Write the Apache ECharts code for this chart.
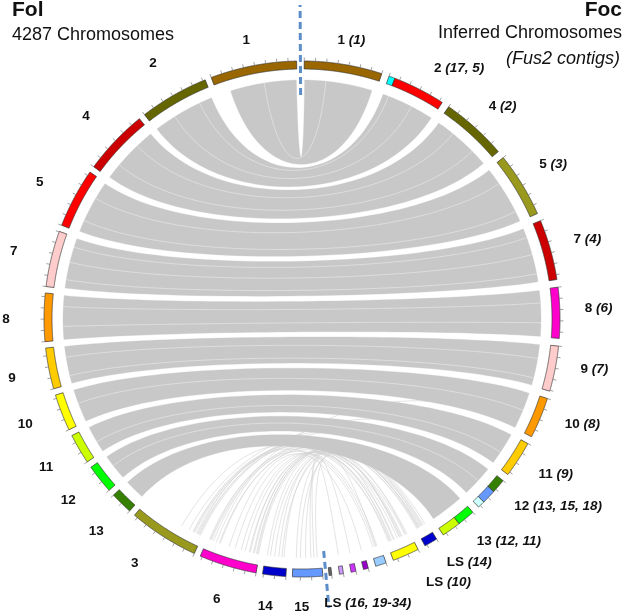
<!DOCTYPE html>
<html><head><meta charset="utf-8">
<script src="https://cdn.jsdelivr.net/npm/echarts@6/dist/echarts.min.js"></script>
<style>html,body{margin:0;padding:0;background:#fff}#c{width:625px;height:614px}</style>
</head><body><div id="c"></div>
<script>
// ---------------- DATA ----------------
// Circos chromosome colour palette (index = chromosome / contig number)
const chrColors = [null,'#996600','#666600','#99991e','#cc0000','#ff0000','#ff00cc','#ffcccc','#ff9900','#ffcc00','#ffff00',
  '#ccff00','#00ff00','#358000','#0000cc','#6699ff','#99ccff','#00ffff','#ccffff','#9900cc','#cc33ff','#cc99ff','#666666'];

// Fol 4287 chromosomes, clockwise from the bottom dashed line (Mb)
const folNames   = ['15','14','6','3','13','12','11','10','9','8','7','5','4','2','1'];
const folLengths = [2.71,2.09,5.19,6.33,2.01,2.61,2.71,3.31,3.69,4.33,5.05,5.37,5.91,6.23,7.76];

// Foc inferred chromosomes (ideograms), clockwise from the top dashed line, made of Fus2 contigs
const focKeys    = ['1','2','4','5','7','8','9','10','11','12','13','LS14','LS10','16','19','20','21','22'];
const focContigs = [[1],[17,5],[2],[3],[4],[6],[7],[8],[9],[13,15,18],[12,11],[14],[10],[16],[19],[20],[21],[22]];
const contigIds     = [1,17,5,2,3,4,6,7,8,9,13,15,18,12,11,14,10,16,19,20,21,22];
const contigLengths = [7.0,0.56,4.72,5.96,5.84,5.44,4.56,4.08,3.68,3.28,1.28,1.28,0.64,1.6,1.72,1.2,2.4,0.96,0.44,0.44,0.36,0.24];

// Foc labels
const focLabelMain    = ['1','2','4','5','7','8','9','10','11','12','13','LS','LS','LS'];
const focLabelContigs = ['(1)','(17, 5)','(2)','(3)','(4)','(6)','(7)','(8)','(9)','(13, 15, 18)','(12, 11)','(14)','(10)','(16, 19-34)'];
const focLabelFrom    = ['1','2','4','5','7','8','9','10','11','12','13','LS14','LS10','16'];
const focLabelTo      = ['1','2','4','5','7','8','9','10','11','12','13','LS14','LS10','22'];

// Syntenic blocks (ribbons): Fol chromosome range <-> Foc ideogram range (Mb, local)
const synFol      = ['1','2','4','5','7','8','9','10','11','12','13'];
const synFolStart = [1.30,0.10,0.10,0.10,0.10,0.05,0.05,0.05,0.05,0.05,0.05];
const synFolEnd   = [7.70,6.15,5.82,5.28,4.96,4.27,3.64,3.25,2.66,2.56,1.98];
const synFoc      = ['1','2','4','5','7','8','9','10','11','12','13'];
const synFocStart = [0.05,0.05,0.10,0.10,0.10,0.10,0.05,0.05,0.05,0.05,0.05];
const synFocEnd   = [6.60,5.20,5.90,5.80,5.38,4.50,4.00,3.62,3.22,3.10,3.25];

// Lighter streaks inside the syntenic bands (Fol chr, pos) <-> (Foc ideogram, pos)
const streakFol    = ['1','2','2','4','4','5','5','7','7','7','8','8','9','9','10','11','12'];
const streakFolPos = [4.6,2.2,4.9,1.6,4.1,1.2,3.6,0.9,2.6,4.1,1.3,3.2,0.8,2.6,1.9,1.1,1.5];
const streakFoc    = ['1','2','2','4','4','5','5','7','7','7','8','8','9','9','10','11','12'];
const streakFocPos = [2.1,3.0,0.6,4.3,1.8,4.8,1.7,4.6,2.7,1.0,3.2,1.3,3.3,1.4,1.8,2.0,1.5];

// Individual thin links (lineage-specific regions)
const thinFol    = ['6','6','6','6','6','6','6','6','6','6','6','6','6','6','6','14','14','14','14','14','15','15','15','15','15','3','3','3','3','3','3','3','3','6','3','15','6','3','14','6'];
const thinFolPos = [0.3,0.6,1.0,0.2,0.5,0.9,1.4,1.8,4.6,4.9,5.0,4.3,3.9,2.4,3.0,0.3,0.8,1.2,1.6,1.9,0.4,1.0,1.5,2.0,2.4,0.3,0.6,0.9,1.4,2.2,0.5,1.0,0.4,4.8,0.2,0.7,0.1,0.8,0.5,4.0];
const thinFoc    = ['LS14','LS14','LS14','LS10','LS10','LS10','LS10','LS10','LS10','LS14','13','16','LS10','16','19','LS10','LS10','LS14','LS14','LS10','16','20','LS10','LS14','LS10','LS14','LS10','13','12','LS10','16','LS14','11','10','12','21','13','13','13','LS14'];
const thinFocPos = [0.2,0.5,0.9,0.3,0.8,1.3,1.9,2.2,0.5,0.6,2.9,0.5,1.6,0.3,0.2,0.4,1.0,0.4,0.9,2.0,0.4,0.2,1.1,0.7,1.7,0.8,0.9,2.5,2.9,2.1,0.7,1.0,3.1,3.3,2.5,0.2,3.1,3.2,2.7,1.1];

// ---------------- LAYOUT ----------------
const L = { cx:302, cy:319, rMax:258, rOuter:258, rInner:250, rLink:239, tick:3.5, tickStep:1,
  ribbonK:0.57, thinK:0.45, gapFoc:0.688, gapFol:0.576, gapTop:0.68, gapBottom:0.56, step:0.04,
  folLabelR:296, focLabelR:283, focLabelShiftDeg:-0.8, folLabelShiftDeg:-0.4 };
// label placement tweaks (degrees / px)
const folLabelOverride = { '1': { r: 284 }, '15': { r: 288, da: 1.7 }, '14': { r: 290, da: 1.5 }, '6': { r: 292.5, da: 0.6 },
  '3': { da: 2.2 }, '12': { da: 0.9 }, '10': { da: 0.9 }, '11': { da: 0.5 } };
const focLabelOverride = { 0: { r: 283, align: 'center', da: 0.8 }, 1: { da: 1.5 }, 3: { da: -1.6 }, 8: { da: 0.3 }, 9: { da: -1.4 },
  12: { r: 291, da: -1.5 }, 13: { r: 292, align: 'center', da: -0.5 } };
const FONT = "'Liberation Sans', Arial, sans-serif";

// ---------------- BUILD IDEOGRAMS ----------------
const ideos = {}; const pieces = []; const ideoList = [];
let pos = L.gapTop / 2;
focContigs.forEach((cs, i) => {
  if (i > 0) pos += L.gapFoc;
  const start = pos;
  cs.forEach(c => { const len = contigLengths[contigIds.indexOf(c)];
    pieces.push({ start: pos, end: pos + len, color: chrColors[c] }); pos += len; });
  const id = { side: 'foc', key: focKeys[i], start, end: pos };
  ideos['foc:' + focKeys[i]] = id; ideoList.push(id);
});
const focEndVal = pos;
pos += L.gapBottom;
folNames.forEach((n, i) => {
  if (i > 0) pos += L.gapFol;
  const id = { side: 'fol', key: n, start: pos, end: pos + folLengths[i] };
  pieces.push({ start: pos, end: pos + folLengths[i], color: chrColors[+n] });
  ideos['fol:' + n] = id; ideoList.push(id); pos += folLengths[i];
});
const TOTAL = pos + L.gapTop / 2;
const DEG = TOTAL / 360;
// value 0 sits in the middle of the top gap, Foc 1 starting ~0.5 deg right of 12 o'clock
const START_ANGLE = 90 - (0.5 - (L.gapTop / 2) / DEG);

const ticks = [];
ideoList.forEach(id => { for (let t = 0; t <= id.end - id.start + 1e-6; t += L.tickStep) ticks.push(id.start + t); });

const ribbons = synFol.map((f, i) => ({
  a0: ideos['fol:' + f].start + synFolStart[i], a1: ideos['fol:' + f].start + synFolEnd[i],
  b0: ideos['foc:' + synFoc[i]].start + synFocStart[i], b1: ideos['foc:' + synFoc[i]].start + synFocEnd[i] }));
const thins = thinFol.map((f, i) => ({ a: ideos['fol:' + f].start + thinFolPos[i], b: ideos['foc:' + thinFoc[i]].start + thinFocPos[i] }));
const streaks = streakFol.map((f, i) => ({ a: ideos['fol:' + f].start + streakFolPos[i], b: ideos['foc:' + streakFoc[i]].start + streakFocPos[i] }));

// ---------------- HELPERS ----------------
function arc(api, r, a, b) {
  const n = Math.max(2, Math.ceil(Math.abs(b - a) / L.step)); const pts = [];
  for (let k = 0; k <= n; k++) pts.push(api.coord([r, a + (b - a) * k / n]));
  return pts;
}
function bez(api, a, b, K) {
  const p0 = api.coord([L.rLink, a]), c1 = api.coord([L.rLink * K, a]), c2 = api.coord([L.rLink * K, b]), p3 = api.coord([L.rLink, b]);
  const pts = [];
  for (let k = 0; k <= 48; k++) { const t = k / 48, u = 1 - t;
    pts.push([u*u*u*p0[0] + 3*u*u*t*c1[0] + 3*u*t*t*c2[0] + t*t*t*p3[0], u*u*u*p0[1] + 3*u*u*t*c1[1] + 3*u*t*t*c2[1] + t*t*t*p3[1]]); }
  return pts;
}
const idx = arr => arr.map((_, i) => [0, 0, i]);

// ---------------- SERIES ----------------
const series = [];
series.push({ type: 'custom', name: 'thin', coordinateSystem: 'polar', data: idx(thins), silent: true,
  renderItem: (p, api) => { const l = thins[p.dataIndex];
    return { type: 'polyline', shape: { points: bez(api, l.a, l.b, L.thinK) }, style: { fill: null, stroke: '#d2d2d2', lineWidth: 0.6 } }; } });
series.push({ type: 'custom', name: 'ribbons', coordinateSystem: 'polar', data: idx(ribbons), silent: true,
  renderItem: (p, api) => { const r = ribbons[p.dataIndex];
    const pts = [].concat(arc(api, L.rLink, r.a0, r.a1), bez(api, r.a1, r.b0, L.ribbonK), arc(api, L.rLink, r.b0, r.b1), bez(api, r.b1, r.a0, L.ribbonK));
    return { type: 'polygon', shape: { points: pts }, style: { fill: '#c8c8c8', stroke: '#c8c8c8', lineWidth: 0.3 } }; } });
series.push({ type: 'custom', name: 'streaks', coordinateSystem: 'polar', data: idx(streaks), silent: true,
  renderItem: (p, api) => { const l = streaks[p.dataIndex];
    return { type: 'polyline', shape: { points: bez(api, l.a, l.b, L.ribbonK) }, style: { fill: null, stroke: '#e2e2e2', lineWidth: 0.8 } }; } });
series.push({ type: 'custom', name: 'ideograms', coordinateSystem: 'polar', data: idx(pieces), silent: true,
  renderItem: (p, api) => { const s = pieces[p.dataIndex];
    const pts = arc(api, L.rOuter, s.start, s.end).concat(arc(api, L.rInner, s.end, s.start));
    return { type: 'polygon', shape: { points: pts }, style: { fill: s.color, stroke: '#333', lineWidth: 0.7 } }; } });
series.push({ type: 'custom', name: 'ticks', coordinateSystem: 'polar', data: idx(ticks), silent: true,
  renderItem: (p, api) => { const v = ticks[p.dataIndex]; const a = api.coord([L.rOuter, v]), b = api.coord([L.rOuter + L.tick, v]);
    return { type: 'line', shape: { x1: a[0], y1: a[1], x2: b[0], y2: b[1] }, style: { stroke: '#777', lineWidth: 0.7 } }; } });

const dashes = [{ v: 0, r0: 224, r1: 314 }, { v: focEndVal + L.gapBottom / 2, r0: 233, r1: 290 }];
series.push({ type: 'custom', name: 'dashes', coordinateSystem: 'polar', data: idx(dashes), silent: true,
  renderItem: (p, api) => { const d = dashes[p.dataIndex]; const a = api.coord([d.r0, d.v]), b = api.coord([d.r1, d.v]);
    return { type: 'line', shape: { x1: a[0], y1: a[1], x2: b[0], y2: b[1] }, style: { stroke: '#5b8dc9', lineWidth: 3, lineDash: [7, 4] } }; } });

const rich = { b: { fontFamily: FONT, fontWeight: 'bold', fontSize: 13.5, fill: '#111' }, bi: { fontFamily: FONT, fontWeight: 'bold', fontStyle: 'italic', fontSize: 13.5, fill: '#111' } };
series.push({ type: 'custom', name: 'folLabels', coordinateSystem: 'polar', data: idx(folNames), silent: true,
  renderItem: (p, api) => { const n = folNames[p.dataIndex]; const id = ideos['fol:' + n]; const o = folLabelOverride[n] || {};
    const c = api.coord([o.r || L.folLabelR, (id.start + id.end) / 2 + ((o.da || 0) + L.folLabelShiftDeg) * DEG]);
    return { type: 'text', x: c[0], y: c[1], style: { text: '{b|' + n + '}', rich, align: 'center', verticalAlign: 'middle' } }; } });
series.push({ type: 'custom', name: 'focLabels', coordinateSystem: 'polar', data: idx(focLabelMain), silent: true,
  renderItem: (p, api) => { const i = p.dataIndex; const o = focLabelOverride[i] || {};
    const v = (ideos['foc:' + focLabelFrom[i]].start + ideos['foc:' + focLabelTo[i]].end) / 2 + (o.da !== undefined ? o.da : L.focLabelShiftDeg) * DEG;
    const c = api.coord([o.r || L.focLabelR, v]);
    return { type: 'text', x: c[0], y: c[1], style: { text: '{b|' + focLabelMain[i] + ' }{bi|' + focLabelContigs[i] + '}', rich, align: o.align || 'left', verticalAlign: 'middle' } }; } });

const chart = echarts.init(document.getElementById('c'), null, { renderer: 'canvas' });
chart.setOption({
  animation: false,
  polar: { center: [L.cx, L.cy], radius: [0, L.rMax] },
  angleAxis: { type: 'value', min: 0, max: TOTAL, startAngle: START_ANGLE, clockwise: true, show: false },
  radiusAxis: { type: 'value', min: 0, max: L.rMax, show: false },
  graphic: [
    { type: 'text', left: 12, top: 0, style: { text: 'Fol', font: 'bold 21px ' + FONT, fill: '#111' } },
    { type: 'text', left: 12, top: 26, style: { text: '4287 Chromosomes', font: '18px ' + FONT, fill: '#111' } },
    { type: 'text', right: 3, top: 0, style: { text: 'Foc', font: 'bold 21px ' + FONT, fill: '#111' } },
    { type: 'text', right: 3, top: 24, style: { text: 'Inferred Chromosomes', font: '18px ' + FONT, fill: '#111' } },
    { type: 'text', right: 5, top: 50, style: { text: '(Fus2 contigs)', font: 'italic 18px ' + FONT, fill: '#111' } }
  ],
  series
});
</script></body></html>
